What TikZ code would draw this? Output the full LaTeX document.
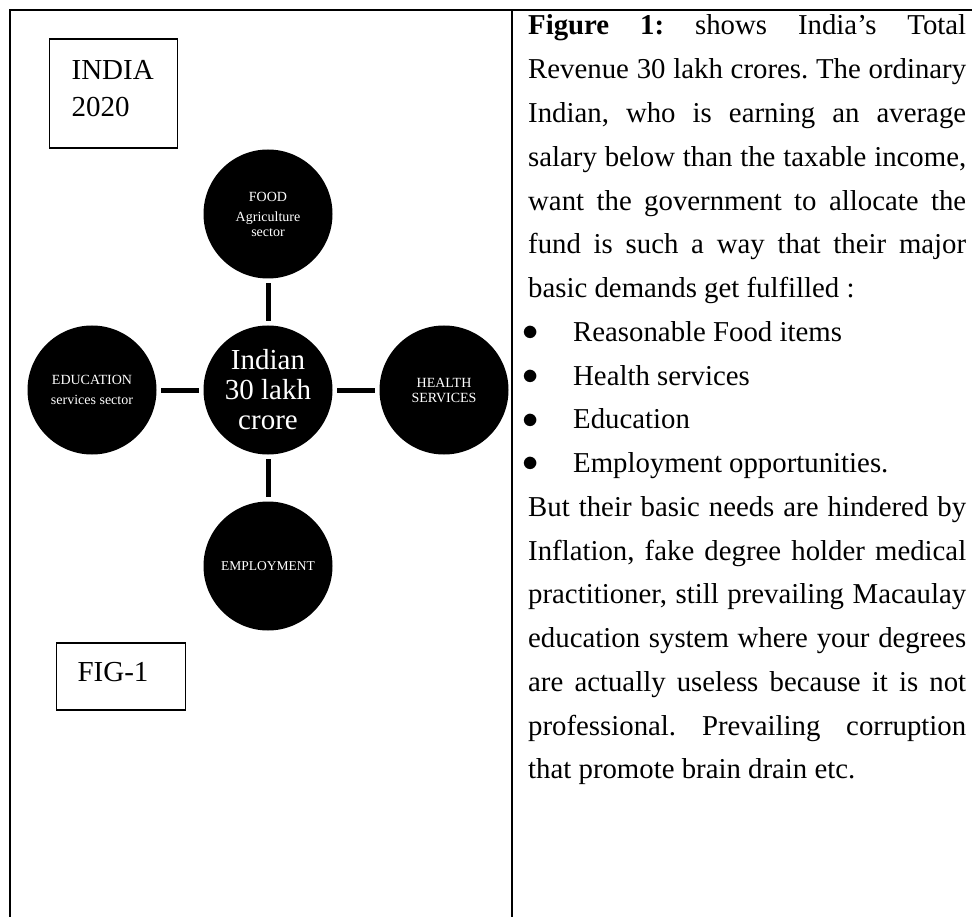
\documentclass[tikz,border=0pt]{standalone}
\usepackage{fontspec}
\setmainfont{Liberation Serif}
\usetikzlibrary{positioning}

\newcommand{\sectbullet}{\par\noindent\hspace*{-5.4pt}\makebox[50.4pt][l]{\raisebox{0.8pt}{\scalebox{1.3}{$\bullet$}}}}

\tikzset{
  frame/.style={line width=1.5pt},
  tagbox/.style={draw, line width=1.2pt, align=left, inner ysep=0pt, anchor=base west,
                 font=\fontsize{29}{37}\selectfont},
  sector/.style={circle, fill=black, text=white, minimum size=129pt, inner sep=0pt,
                 align=center, font=\fontsize{14}{15}\selectfont},
  link/.style={line width=5pt, shorten >=4.5pt, shorten <=4.5pt},
  desc/.style={text width=438pt, inner sep=0pt, anchor=base west, align=justify,
               font=\fontsize{28.8}{43.76}\selectfont}
}

\begin{document}
\begin{tikzpicture}[x=1pt, y=-1pt, node distance=176pt, on grid]
    \useasboundingbox (0,0) rectangle (972,917);

    % Table rules
    \draw[frame] (10,917) -- (10,10) -- (972,10);
    \draw[frame] (512,10) -- (512,917);

    % Boxed tags
    \node[tagbox, text width=84pt, inner xsep=22pt, text height=41pt, text depth=68pt] (india) at (49,80) {INDIA\\2020};
    \node[tagbox, text width=87pt, inner xsep=21pt, text height=38pt, text depth=29pt] (fig) at (56,681) {FIG-1};

    % Revenue and the four sectors
    \node[sector, font=\fontsize{29}{30}\selectfont] (rev) at (268,390) {Indian\\30 lakh\\crore};
    \node[sector, above=of rev] (food) {FOOD\\[5pt]Agriculture\\sector};
    \node[sector, left=of rev, font=\fontsize{14}{20}\selectfont] (edu) {EDUCATION\\services sector};
    \node[sector, right=of rev] (health) {HEALTH\\SERVICES};
    \node[sector, below=of rev, font=\fontsize{13.5}{15}\selectfont] (emp) {EMPLOYMENT};

    \draw[link] (rev) -- (food);
    \draw[link] (rev) -- (edu);
    \draw[link] (rev) -- (health);
    \draw[link] (rev) -- (emp);

    % Description column
    \node[desc] (text) at (528,35) {\tolerance=10000\hbadness=10000\parindent=0pt\frenchspacing
      \textbf{Figure 1:} shows India’s Total\linebreak
      Revenue 30 lakh crores. The ordinary\linebreak
      Indian, who is earning an average\linebreak
      salary below than the taxable income,\linebreak
      want the government to allocate the\linebreak
      fund is such a way that their major\linebreak
      basic demands get fulfilled :
      \sectbullet Reasonable Food items
      \sectbullet Health services
      \sectbullet Education
      \sectbullet Employment opportunities.\par
      But their basic needs are hindered by\linebreak
      Inflation, fake degree holder medical\linebreak
      practitioner, still prevailing Macaulay\linebreak
      education system where your degrees\linebreak
      are actually useless because it is not\linebreak
      professional. Prevailing corruption\linebreak
      that promote brain drain etc.};
\end{tikzpicture}
\end{document}
